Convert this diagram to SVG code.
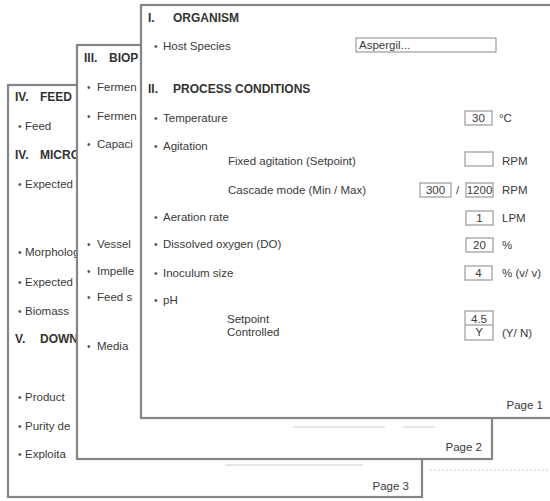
<svg xmlns="http://www.w3.org/2000/svg" width="550" height="501" viewBox="0 0 550 501">
<defs>
<style>
.page{fill:#ffffff;stroke:#858585;stroke-width:2.2}
.t{font-family:"Liberation Sans",Arial,sans-serif;font-size:11.5px;fill:#3a3a3a}
.h{font-family:"Liberation Sans",Arial,sans-serif;font-size:12px;font-weight:bold;fill:#333333}
.b{font-family:"Liberation Sans",Arial,sans-serif;font-size:10px;fill:#555555}
.box{fill:#ffffff;stroke:#9a9a9a;stroke-width:1.2}
.faint{stroke:#dddddd;stroke-width:1.5;fill:none}
.lbl{font-family:"Liberation Sans",Arial,sans-serif;font-size:11.5px;fill:#3a3a3a;text-anchor:end}
.c{text-anchor:middle}
</style>
</defs>
<rect x="0" y="0" width="550" height="501" fill="#ffffff"/>
<g id="faint-marks">
<line class="faint" x1="430" y1="470" x2="550" y2="470" stroke-dasharray="2 2"/>
</g>
<g id="page3">
<rect class="page" x="8" y="85" width="414" height="412"/>
<text class="h" x="15" y="101">IV.</text><text class="h" x="40" y="101">FEED</text>
<text class="b" x="18" y="130">•</text><text class="t" x="25" y="130">Feed</text>
<text class="h" x="15" y="159">IV.</text><text class="h" x="40" y="159">MICRO</text>
<text class="b" x="18" y="188">•</text><text class="t" x="25" y="188">Expected</text>
<text class="b" x="18" y="256">•</text><text class="t" x="25" y="256">Morphology</text>
<text class="b" x="18" y="286">•</text><text class="t" x="25" y="286">Expected</text>
<text class="b" x="18" y="315">•</text><text class="t" x="25" y="315">Biomass</text>
<text class="h" x="15" y="343">V.</text><text class="h" x="40" y="343">DOWN</text>
<text class="b" x="18" y="401">•</text><text class="t" x="25" y="401">Product</text>
<text class="b" x="18" y="430">•</text><text class="t" x="25" y="430">Purity de</text>
<text class="b" x="18" y="458">•</text><text class="t" x="25" y="458">Exploita</text>
<line class="faint" x1="225" y1="465" x2="363" y2="465"/>
<text class="lbl" x="409" y="490">Page 3</text>
</g>
<g id="page2">
<rect class="page" x="77" y="45" width="415" height="414"/>
<text class="h" x="84" y="62">III.</text><text class="h" x="109" y="62">BIOP</text>
<text class="b" x="87" y="91">•</text><text class="t" x="97" y="91">Fermen</text>
<text class="b" x="87" y="120">•</text><text class="t" x="97" y="120">Fermen</text>
<text class="b" x="87" y="148">•</text><text class="t" x="97" y="148">Capaci</text>
<text class="b" x="87" y="248">•</text><text class="t" x="97" y="248">Vessel</text>
<text class="b" x="87" y="275">•</text><text class="t" x="97" y="275">Impelle</text>
<text class="b" x="87" y="301">•</text><text class="t" x="97" y="301">Feed s</text>
<text class="b" x="87" y="350">•</text><text class="t" x="97" y="350">Media</text>
<line class="faint" x1="293" y1="427" x2="385" y2="427"/>
<line class="faint" x1="403" y1="427" x2="435" y2="427"/>
<text class="lbl" x="482" y="451">Page 2</text>
</g>
<g id="page1">
<rect class="page" x="141" y="5" width="420" height="413"/>
<text class="h" x="148" y="22">I.</text><text class="h" x="173" y="22">ORGANISM</text>
<text class="b" x="154" y="50">•</text><text class="t" x="163" y="50">Host Species</text>
<rect class="box" x="356" y="38" width="140" height="14"/>
<text class="t" x="359" y="49">Aspergil...</text>
<text class="h" x="148" y="93">II.</text><text class="h" x="173" y="93">PROCESS CONDITIONS</text>
<text class="b" x="154" y="122">•</text><text class="t" x="163" y="122">Temperature</text>
<rect class="box" x="465" y="111" width="27" height="14"/>
<text class="t c" x="478.5" y="122">30</text>
<text class="t" x="499" y="122">°C</text>
<text class="b" x="154" y="150">•</text><text class="t" x="163" y="150">Agitation</text>
<text class="t" x="228" y="165">Fixed agitation (Setpoint)</text>
<rect class="box" x="465" y="152" width="28" height="14"/>
<text class="t" x="502" y="165">RPM</text>
<text class="t" x="228" y="194">Cascade mode (Min / Max)</text>
<rect class="box" x="420" y="183" width="31" height="14"/>
<text class="t c" x="435.5" y="194">300</text>
<text class="t" x="456" y="194">/</text>
<rect class="box" x="466" y="183" width="27" height="14"/>
<text class="t c" x="479.5" y="194">1200</text>
<text class="t" x="502" y="194">RPM</text>
<text class="b" x="154" y="221">•</text><text class="t" x="163" y="221">Aeration rate</text>
<rect class="box" x="466" y="211" width="27" height="14"/>
<text class="t c" x="479.5" y="222">1</text>
<text class="t" x="502" y="222">LPM</text>
<text class="b" x="154" y="248">•</text><text class="t" x="163" y="248">Dissolved oxygen (DO)</text>
<rect class="box" x="466" y="238" width="27" height="14"/>
<text class="t c" x="479.5" y="249">20</text>
<text class="t" x="502" y="249">%</text>
<text class="b" x="154" y="277">•</text><text class="t" x="163" y="277">Inoculum size</text>
<rect class="box" x="465" y="266" width="27" height="14"/>
<text class="t c" x="478.5" y="277">4</text>
<text class="t" x="502" y="277">% (v/ v)</text>
<text class="b" x="154" y="304">•</text><text class="t" x="163" y="304">pH</text>
<text class="t" x="227" y="323">Setpoint</text>
<text class="t" x="227" y="336">Controlled</text>
<rect class="box" x="465" y="311" width="28" height="29"/>
<line x1="465" y1="325" x2="493" y2="325" stroke="#9a9a9a" stroke-width="1.2"/>
<text class="t c" x="479" y="323">4.5</text>
<text class="t c" x="479" y="336">Y</text>
<text class="t" x="502" y="337">(Y/ N)</text>
<text class="lbl" x="543" y="409">Page 1</text>
</g>
</svg>
